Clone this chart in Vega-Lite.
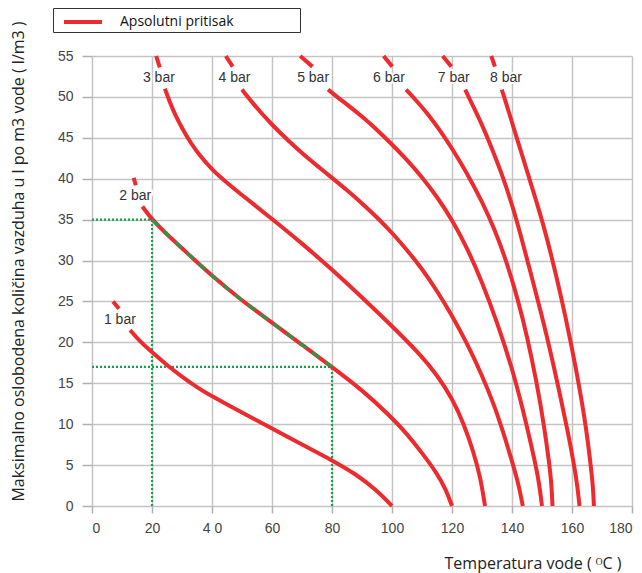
{
  "$schema": "https://vega.github.io/schema/vega-lite/v6.json",
  "width": 540,
  "height": 450,
  "autosize": "none",
  "padding": {"left": 92, "top": 56, "right": 10, "bottom": 67},
  "background": "white",
  "config": {
    "font": "Liberation Sans",
    "view": {"stroke": null},
    "axis": {
      "gridColor": "#c4c4c4", "gridWidth": 1.5, "gridOpacity": 1,
      "tickColor": "#b0b0b0", "tickWidth": 1.5,
      "labelColor": "#444", "labelFontSize": 14, "titleColor": "#222",
      "titleFont": "Open Sans", "titleFontWeight": "normal", "domain": false
    }
  },
  "datasets": {
    "curves": [
      {"c": "1 bar", "s": "a", "x": 7, "y": 25.0}, {"c": "1 bar", "s": "a", "x": 9, "y": 24.1},
      {"c": "1 bar", "s": "b", "x": 12.7, "y": 21.5}, {"c": "1 bar", "s": "b", "x": 16, "y": 20.1},
      {"c": "1 bar", "s": "b", "x": 20, "y": 18.8}, {"c": "1 bar", "s": "b", "x": 25, "y": 17.2},
      {"c": "1 bar", "s": "b", "x": 30, "y": 15.8}, {"c": "1 bar", "s": "b", "x": 35, "y": 14.5},
      {"c": "1 bar", "s": "b", "x": 40, "y": 13.4}, {"c": "1 bar", "s": "b", "x": 50, "y": 11.4},
      {"c": "1 bar", "s": "b", "x": 60, "y": 9.5}, {"c": "1 bar", "s": "b", "x": 70, "y": 7.5},
      {"c": "1 bar", "s": "b", "x": 80, "y": 5.6}, {"c": "1 bar", "s": "b", "x": 88, "y": 3.9},
      {"c": "1 bar", "s": "b", "x": 95, "y": 1.9}, {"c": "1 bar", "s": "b", "x": 100, "y": 0},

      {"c": "2 bar", "s": "a", "x": 13.9, "y": 40.1}, {"c": "2 bar", "s": "a", "x": 14.6, "y": 39.2},
      {"c": "2 bar", "s": "b", "x": 16.8, "y": 36.6}, {"c": "2 bar", "s": "b", "x": 20, "y": 35},
      {"c": "2 bar", "s": "b", "x": 25, "y": 33.2}, {"c": "2 bar", "s": "b", "x": 30, "y": 31.5},
      {"c": "2 bar", "s": "b", "x": 40, "y": 28.1}, {"c": "2 bar", "s": "b", "x": 50, "y": 25.1},
      {"c": "2 bar", "s": "b", "x": 60, "y": 22.4}, {"c": "2 bar", "s": "b", "x": 70, "y": 19.7},
      {"c": "2 bar", "s": "b", "x": 80, "y": 17}, {"c": "2 bar", "s": "b", "x": 90, "y": 14.2},
      {"c": "2 bar", "s": "b", "x": 100, "y": 10.8}, {"c": "2 bar", "s": "b", "x": 105, "y": 8.8},
      {"c": "2 bar", "s": "b", "x": 110, "y": 6.5}, {"c": "2 bar", "s": "b", "x": 115, "y": 4.0},
      {"c": "2 bar", "s": "b", "x": 118, "y": 2.0}, {"c": "2 bar", "s": "b", "x": 120, "y": 0},

      {"c": "3 bar", "s": "a", "x": 21.4, "y": 55}, {"c": "3 bar", "s": "a", "x": 22.6, "y": 53.6},
      {"c": "3 bar", "s": "b", "x": 24.3, "y": 51}, {"c": "3 bar", "s": "b", "x": 26, "y": 49.3},
      {"c": "3 bar", "s": "b", "x": 28, "y": 47.6}, {"c": "3 bar", "s": "b", "x": 30, "y": 46.2},
      {"c": "3 bar", "s": "b", "x": 33, "y": 44.3}, {"c": "3 bar", "s": "b", "x": 36, "y": 42.8},
      {"c": "3 bar", "s": "b", "x": 40, "y": 41.1}, {"c": "3 bar", "s": "b", "x": 45, "y": 39.5},
      {"c": "3 bar", "s": "b", "x": 50, "y": 38}, {"c": "3 bar", "s": "b", "x": 60, "y": 35.1},
      {"c": "3 bar", "s": "b", "x": 70, "y": 32.1}, {"c": "3 bar", "s": "b", "x": 80, "y": 28.9},
      {"c": "3 bar", "s": "b", "x": 90, "y": 25.5}, {"c": "3 bar", "s": "b", "x": 100, "y": 22},
      {"c": "3 bar", "s": "b", "x": 110, "y": 18.3}, {"c": "3 bar", "s": "b", "x": 115, "y": 16},
      {"c": "3 bar", "s": "b", "x": 120, "y": 13.2}, {"c": "3 bar", "s": "b", "x": 124, "y": 10},
      {"c": "3 bar", "s": "b", "x": 127, "y": 6.8}, {"c": "3 bar", "s": "b", "x": 129.5, "y": 3.5},
      {"c": "3 bar", "s": "b", "x": 131, "y": 0},

      {"c": "4 bar", "s": "a", "x": 44.6, "y": 55}, {"c": "4 bar", "s": "a", "x": 46.9, "y": 53.7},
      {"c": "4 bar", "s": "b", "x": 50, "y": 50.9}, {"c": "4 bar", "s": "b", "x": 53, "y": 49.5},
      {"c": "4 bar", "s": "b", "x": 56, "y": 48.2}, {"c": "4 bar", "s": "b", "x": 60, "y": 46.6},
      {"c": "4 bar", "s": "b", "x": 65, "y": 44.8}, {"c": "4 bar", "s": "b", "x": 70, "y": 43.1},
      {"c": "4 bar", "s": "b", "x": 75, "y": 41.6}, {"c": "4 bar", "s": "b", "x": 80, "y": 40.1},
      {"c": "4 bar", "s": "b", "x": 85, "y": 38.6}, {"c": "4 bar", "s": "b", "x": 90, "y": 37},
      {"c": "4 bar", "s": "b", "x": 95, "y": 35.3}, {"c": "4 bar", "s": "b", "x": 100, "y": 33.4},
      {"c": "4 bar", "s": "b", "x": 105, "y": 31.3}, {"c": "4 bar", "s": "b", "x": 110, "y": 29},
      {"c": "4 bar", "s": "b", "x": 115, "y": 26.3}, {"c": "4 bar", "s": "b", "x": 120, "y": 23.3},
      {"c": "4 bar", "s": "b", "x": 125, "y": 19.9}, {"c": "4 bar", "s": "b", "x": 130, "y": 16},
      {"c": "4 bar", "s": "b", "x": 134, "y": 12.4}, {"c": "4 bar", "s": "b", "x": 137, "y": 9.1},
      {"c": "4 bar", "s": "b", "x": 140, "y": 5.5}, {"c": "4 bar", "s": "b", "x": 142.3, "y": 2.5},
      {"c": "4 bar", "s": "b", "x": 143.6, "y": 0},

      {"c": "5 bar", "s": "a", "x": 69.4, "y": 55}, {"c": "5 bar", "s": "a", "x": 73.5, "y": 53.7},
      {"c": "5 bar", "s": "b", "x": 78.7, "y": 50.9}, {"c": "5 bar", "s": "b", "x": 82, "y": 49.9},
      {"c": "5 bar", "s": "b", "x": 86, "y": 48.8}, {"c": "5 bar", "s": "b", "x": 90, "y": 47.6},
      {"c": "5 bar", "s": "b", "x": 95, "y": 46}, {"c": "5 bar", "s": "b", "x": 100, "y": 44.2},
      {"c": "5 bar", "s": "b", "x": 105, "y": 42.3}, {"c": "5 bar", "s": "b", "x": 110, "y": 40.2},
      {"c": "5 bar", "s": "b", "x": 115, "y": 37.8}, {"c": "5 bar", "s": "b", "x": 120, "y": 35},
      {"c": "5 bar", "s": "b", "x": 125, "y": 31.6}, {"c": "5 bar", "s": "b", "x": 130, "y": 27.4},
      {"c": "5 bar", "s": "b", "x": 135, "y": 22.5}, {"c": "5 bar", "s": "b", "x": 140, "y": 16.9},
      {"c": "5 bar", "s": "b", "x": 143.5, "y": 12}, {"c": "5 bar", "s": "b", "x": 146.5, "y": 7.3},
      {"c": "5 bar", "s": "b", "x": 148.8, "y": 3.5}, {"c": "5 bar", "s": "b", "x": 150, "y": 0},

      {"c": "6 bar", "s": "a", "x": 97.2, "y": 55}, {"c": "6 bar", "s": "a", "x": 100.1, "y": 53.7},
      {"c": "6 bar", "s": "b", "x": 104.7, "y": 50.9}, {"c": "6 bar", "s": "b", "x": 108, "y": 49.6},
      {"c": "6 bar", "s": "b", "x": 112, "y": 47.9}, {"c": "6 bar", "s": "b", "x": 116, "y": 45.9},
      {"c": "6 bar", "s": "b", "x": 120, "y": 43.7}, {"c": "6 bar", "s": "b", "x": 125, "y": 40.7},
      {"c": "6 bar", "s": "b", "x": 130, "y": 37.2}, {"c": "6 bar", "s": "b", "x": 134, "y": 34},
      {"c": "6 bar", "s": "b", "x": 138, "y": 30.1}, {"c": "6 bar", "s": "b", "x": 142, "y": 25.2},
      {"c": "6 bar", "s": "b", "x": 145, "y": 20.8}, {"c": "6 bar", "s": "b", "x": 148.3, "y": 15},
      {"c": "6 bar", "s": "b", "x": 150.7, "y": 9.8}, {"c": "6 bar", "s": "b", "x": 152.4, "y": 5.3},
      {"c": "6 bar", "s": "b", "x": 153.2, "y": 2.5}, {"c": "6 bar", "s": "b", "x": 153.5, "y": 0},

      {"c": "7 bar", "s": "a", "x": 116.9, "y": 55}, {"c": "7 bar", "s": "a", "x": 119.8, "y": 53.7},
      {"c": "7 bar", "s": "b", "x": 124.4, "y": 50.9}, {"c": "7 bar", "s": "b", "x": 127, "y": 48.9},
      {"c": "7 bar", "s": "b", "x": 130, "y": 46.6}, {"c": "7 bar", "s": "b", "x": 133, "y": 44},
      {"c": "7 bar", "s": "b", "x": 136.5, "y": 40.7}, {"c": "7 bar", "s": "b", "x": 140, "y": 36.9},
      {"c": "7 bar", "s": "b", "x": 143, "y": 33}, {"c": "7 bar", "s": "b", "x": 146, "y": 28.8},
      {"c": "7 bar", "s": "b", "x": 150, "y": 23.2}, {"c": "7 bar", "s": "b", "x": 153, "y": 18.6},
      {"c": "7 bar", "s": "b", "x": 156, "y": 13.6}, {"c": "7 bar", "s": "b", "x": 158.5, "y": 9.3},
      {"c": "7 bar", "s": "b", "x": 160.5, "y": 5.4}, {"c": "7 bar", "s": "b", "x": 161.8, "y": 2.5},
      {"c": "7 bar", "s": "b", "x": 162.5, "y": 0},

      {"c": "8 bar", "s": "a", "x": 133.1, "y": 55}, {"c": "8 bar", "s": "a", "x": 134.3, "y": 53.7},
      {"c": "8 bar", "s": "b", "x": 136.6, "y": 50.9}, {"c": "8 bar", "s": "b", "x": 139, "y": 48.1},
      {"c": "8 bar", "s": "b", "x": 141.5, "y": 45.1}, {"c": "8 bar", "s": "b", "x": 145.3, "y": 40.6},
      {"c": "8 bar", "s": "b", "x": 148, "y": 37.4}, {"c": "8 bar", "s": "b", "x": 150.5, "y": 34.3},
      {"c": "8 bar", "s": "b", "x": 153, "y": 30.8}, {"c": "8 bar", "s": "b", "x": 156.5, "y": 25.4},
      {"c": "8 bar", "s": "b", "x": 159.5, "y": 20.2}, {"c": "8 bar", "s": "b", "x": 162.5, "y": 14.5},
      {"c": "8 bar", "s": "b", "x": 164.7, "y": 9.6}, {"c": "8 bar", "s": "b", "x": 166.2, "y": 5.1},
      {"c": "8 bar", "s": "b", "x": 167, "y": 2.4}, {"c": "8 bar", "s": "b", "x": 167.3, "y": 0}
    ],
    "guides": [
      {"g": "h35", "x": 0, "y": 35}, {"g": "h35", "x": 20, "y": 35},
      {"g": "v20", "x": 20, "y": 0}, {"g": "v20", "x": 20, "y": 35},
      {"g": "h17", "x": 0, "y": 17}, {"g": "h17", "x": 80, "y": 17},
      {"g": "v80", "x": 80, "y": 0}, {"g": "v80", "x": 80, "y": 17}
    ],
    "overlay": [
      {"x": 20, "y": 35}, {"x": 25, "y": 33.2}, {"x": 30, "y": 31.5}, {"x": 40, "y": 28.1},
      {"x": 50, "y": 25.1}, {"x": 60, "y": 22.4}, {"x": 70, "y": 19.7}, {"x": 80, "y": 17}
    ],
    "labels": [
      {"t": "1 bar", "x": 9.3, "y": 22.7}, {"t": "2 bar", "x": 14.4, "y": 37.9},
      {"t": "3 bar", "x": 22.3, "y": 52.3}, {"t": "4 bar", "x": 47.5, "y": 52.3},
      {"t": "5 bar", "x": 73.7, "y": 52.3}, {"t": "6 bar", "x": 99, "y": 52.3},
      {"t": "7 bar", "x": 120.6, "y": 52.3}, {"t": "8 bar", "x": 138, "y": 52.3}
    ]
  },
  "layer": [
    {
      "data": {"name": "guides"},
      "mark": {"type": "line", "color": "#16a34a", "strokeWidth": 2.2, "strokeDash": [2, 2]},
      "encoding": {
        "x": {"field": "x", "type": "quantitative", "scale": {"domain": [0, 180], "nice": false},
          "axis": {"values": [0, 20, 40, 60, 80, 100, 120, 140, 160, 180],
            "labelExpr": "datum.value == 40 ? '4 0' : datum.label",
            "tickSize": 7, "labelPadding": 8,
            "title": "Temperatura vode ( ᴼC )", "titleFontSize": 16,
            "titleX": 529, "titleY": 62, "titleAlign": "right", "titleBaseline": "alphabetic"}},
        "y": {"field": "y", "type": "quantitative", "scale": {"domain": [0, 55], "nice": false},
          "axis": {"values": [0, 5, 10, 15, 20, 25, 30, 35, 40, 45, 50, 55],
            "tickSize": 10, "labelPadding": 9,
            "title": "Maksimalno oslobodena količina vazduha u l po m3 vode ( l/m3 )",
            "titleFontSize": 16, "titleX": -74, "titleY": 205, "titleAngle": -90,
            "titleAlign": "center", "titleBaseline": "middle"}},
        "detail": {"field": "g"}
      }
    },
    {
      "data": {"name": "curves"},
      "mark": {"type": "line", "strokeWidth": 4, "interpolate": "basis"},
      "encoding": {
        "x": {"field": "x", "type": "quantitative"},
        "y": {"field": "y", "type": "quantitative"},
        "detail": [{"field": "c"}, {"field": "s"}],
        "color": {"datum": "Apsolutni pritisak", "type": "nominal",
          "scale": {"range": ["#ed2a2e"]},
          "legend": {"orient": "none", "legendX": -39, "legendY": -48,
            "title": "\u00a0", "titleOrient": "right", "titlePadding": 64,
            "symbolType": "M-1.9,0H1.9", "symbolSize": 400, "symbolStrokeWidth": 4,
            "labelFont": "Open Sans", "labelFontSize": 14, "labelColor": "#111", "labelOffset": 25,
            "strokeColor": "#333", "fillColor": "white", "padding": 2, "symbolOffset": 16}}
      }
    },
    {
      "data": {"name": "overlay"},
      "mark": {"type": "line", "color": "#16a34a", "strokeWidth": 2.5, "strokeDash": [9, 7], "interpolate": "basis"},
      "encoding": {
        "x": {"field": "x", "type": "quantitative"},
        "y": {"field": "y", "type": "quantitative"}
      }
    },
    {
      "data": {"name": "labels"},
      "mark": {"type": "text", "fontSize": 14, "stroke": "white", "strokeWidth": 4, "color": "white", "align": "center", "baseline": "middle"},
      "encoding": {
        "x": {"field": "x", "type": "quantitative"},
        "y": {"field": "y", "type": "quantitative"},
        "text": {"field": "t"}
      }
    },
    {
      "data": {"name": "labels"},
      "mark": {"type": "text", "fontSize": 14, "color": "#333", "align": "center", "baseline": "middle"},
      "encoding": {
        "x": {"field": "x", "type": "quantitative"},
        "y": {"field": "y", "type": "quantitative"},
        "text": {"field": "t"}
      }
    }
  ]
}
